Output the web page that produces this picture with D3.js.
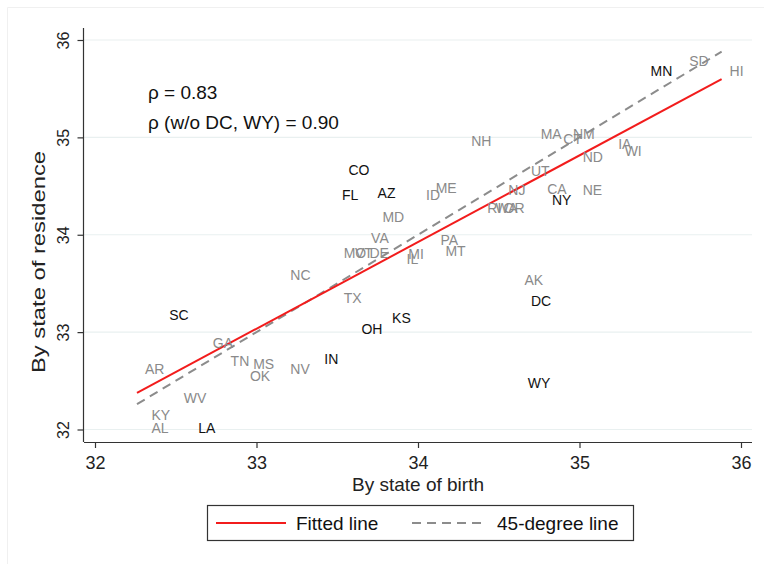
<!DOCTYPE html>
<html>
<head>
<meta charset="utf-8">
<script src="https://cdn.jsdelivr.net/npm/d3@7"></script>
<style>
  body { margin: 0; background: #fff; }
  svg { font-family: "Liberation Sans", Arial, sans-serif; }
</style>
</head>
<body>
<div id="chart"></div>
<script>
// state labels, value by state of birth (x) and by state of residence (y)
var states = ['AL','KY','AR','WV','LA','SC','GA','TN','MS','OK','NV','IN','NC','TX','OH','KS',
              'MO','VT','DE','MI','IL','VA','PA','MT','MD','FL','AZ','CO','ID','ME','NJ','RI',
              'WA','OR','CA','NY','NE','UT','ND','NH','MA','CT','NM','IA','WI','MN','SD','HI',
              'AK','DC','WY'];
var byBirth = [32.30,32.30,32.26,32.50,32.59,32.41,32.68,32.79,32.93,32.91,33.16,33.37,33.16,33.49,33.60,33.79,
               33.49,33.56,33.65,33.89,33.88,33.66,34.09,34.12,33.73,33.48,33.70,33.52,34.00,34.06,34.51,34.38,
               34.43,34.48,34.75,34.78,34.97,34.65,34.97,34.28,34.71,34.85,34.91,35.19,35.23,35.39,35.63,35.88,
               34.61,34.65,34.63];
var byResidence = [32.02,32.15,32.62,32.32,32.02,33.18,32.89,32.70,32.67,32.55,32.62,32.72,33.59,33.35,33.03,33.15,
                   33.81,33.81,33.81,33.80,33.75,33.97,33.95,33.83,34.18,34.41,34.43,34.67,34.41,34.48,34.46,34.28,
                   34.28,34.28,34.47,34.36,34.46,34.65,34.80,34.96,35.04,34.98,35.03,34.93,34.86,35.68,35.78,35.68,
                   33.54,33.32,32.48];
// labels printed in black
var blackStates = ['CO','FL','AZ','NY','MN','DC','OH','KS','IN','SC','LA','WY'];

var xTicks = [32, 33, 34, 35, 36];
var yTicks = [32, 33, 34, 35, 36];

// fitted line
var fitIntercept = 3.665;
var fitSlope = 0.89;

var notes = ['\u03c1 = 0.83', '\u03c1 (w/o DC, WY) = 0.90'];
var legendLabels = ['Fitted line', '45-degree line'];

var width = 764, height = 564;

var svg = d3.select('#chart')
  .append('svg')
  .attr('width', width)
  .attr('height', height);

var x = d3.scaleLinear().domain([32, 36]).range([95, 741]);
var y = d3.scaleLinear().domain([32, 36]).range([429.5, 40]);

// faint outer frame (top and left only visible)
svg.append('path')
  .attr('d', 'M7.5,564V7.5H764')
  .attr('fill', 'none')
  .attr('stroke', '#f0f0f0');

// gridlines
svg.selectAll('line.grid')
  .data(yTicks)
  .enter()
  .append('line')
  .attr('class', 'grid')
  .attr('x1', 84).attr('x2', 752)
  .attr('y1', function (d) { return y(d); })
  .attr('y2', function (d) { return y(d); })
  .attr('stroke', '#e9f0f0')
  .attr('stroke-width', 1.2);

// axes
var xAxis = svg.append('g')
  .attr('transform', 'translate(0,442)')
  .call(d3.axisBottom(x).tickValues(xTicks).tickFormat(d3.format('d'))
    .tickSize(6).tickPadding(8).tickSizeOuter(0));
xAxis.select('.domain').attr('d', 'M84,0.5H752');
xAxis.selectAll('.tick text').attr('font-size', 18);

var yAxis = svg.append('g')
  .attr('transform', 'translate(83.5,0)')
  .call(d3.axisLeft(y).tickValues(yTicks).tickFormat(d3.format('d'))
    .tickSize(6).tickSizeOuter(0));
yAxis.select('.domain').attr('d', 'M0,28V442');
yAxis.selectAll('.tick text')
  .attr('x', 0).attr('dy', null)
  .attr('transform', 'translate(-15,0) rotate(-90)')
  .attr('text-anchor', 'middle')
  .attr('font-size', 16);

svg.selectAll('.domain, .tick line').attr('stroke', '#333').attr('stroke-width', 1.2);
svg.selectAll('.tick text')
  .attr('fill', '#222')
  .attr('font-family', '"Liberation Sans", Arial, sans-serif');

// axis titles
svg.append('text')
  .attr('x', 418).attr('y', 491)
  .attr('text-anchor', 'middle')
  .attr('font-size', 19)
  .attr('fill', '#222')
  .text('By state of birth');

svg.append('text')
  .attr('transform', 'translate(45,262) rotate(-90)')
  .attr('text-anchor', 'middle')
  .attr('font-size', 19)
  .attr('textLength', 222)
  .attr('lengthAdjust', 'spacingAndGlyphs')
  .attr('fill', '#222')
  .text('By state of residence');

// lines over the range of the data
var xExt = d3.extent(byBirth);

var lineGen = d3.line()
  .x(function (d) { return x(d[0]); })
  .y(function (d) { return y(d[1]); });

svg.append('path')
  .datum(xExt.map(function (v) { return [v, v]; }))
  .attr('d', lineGen)
  .attr('fill', 'none')
  .attr('stroke', '#8c8c8c')
  .attr('stroke-width', 2)
  .attr('stroke-dasharray', '9,6');

svg.append('path')
  .datum(xExt.map(function (v) { return [v, fitIntercept + fitSlope * v]; }))
  .attr('d', lineGen)
  .attr('fill', 'none')
  .attr('stroke', '#f21c1c')
  .attr('stroke-width', 2);

// state labels at 3 o'clock of each (invisible) point
svg.selectAll('text.state')
  .data(states)
  .enter()
  .append('text')
  .attr('class', 'state')
  .attr('x', function (d, i) { return x(byBirth[i]) + 8; })
  .attr('y', function (d, i) { return y(byResidence[i]); })
  .attr('dy', '0.36em')
  .attr('font-size', 14)
  .attr('fill', function (d) { return blackStates.indexOf(d) >= 0 ? '#111' : '#8a8a8a'; })
  .text(function (d) { return d; });

// correlation notes
svg.selectAll('text.note')
  .data(notes)
  .enter()
  .append('text')
  .attr('class', 'note')
  .attr('x', 148)
  .attr('y', function (d, i) { return 92 + i * 30; })
  .attr('dy', '0.36em')
  .attr('font-size', 19)
  .attr('fill', '#111')
  .text(function (d) { return d; });

// legend
var legend = svg.append('g');
legend.append('rect')
  .attr('x', 207.5).attr('y', 505.5)
  .attr('width', 426).attr('height', 35)
  .attr('fill', '#fff')
  .attr('stroke', '#333')
  .attr('stroke-width', 1.2);

var legendItems = [
  { x0: 216, x1: 286, tx: 296, color: '#f21c1c', dash: null },
  { x0: 412, x1: 484, tx: 497, color: '#8c8c8c', dash: '9,6' }
];

legendItems.forEach(function (it, i) {
  legend.append('line')
    .attr('x1', it.x0).attr('x2', it.x1)
    .attr('y1', 523).attr('y2', 523)
    .attr('stroke', it.color)
    .attr('stroke-width', 2)
    .attr('stroke-dasharray', it.dash);
  legend.append('text')
    .attr('x', it.tx).attr('y', 523)
    .attr('dy', '0.36em')
    .attr('font-size', 19)
    .attr('fill', '#111')
    .text(legendLabels[i]);
});
</script>
</body>
</html>
